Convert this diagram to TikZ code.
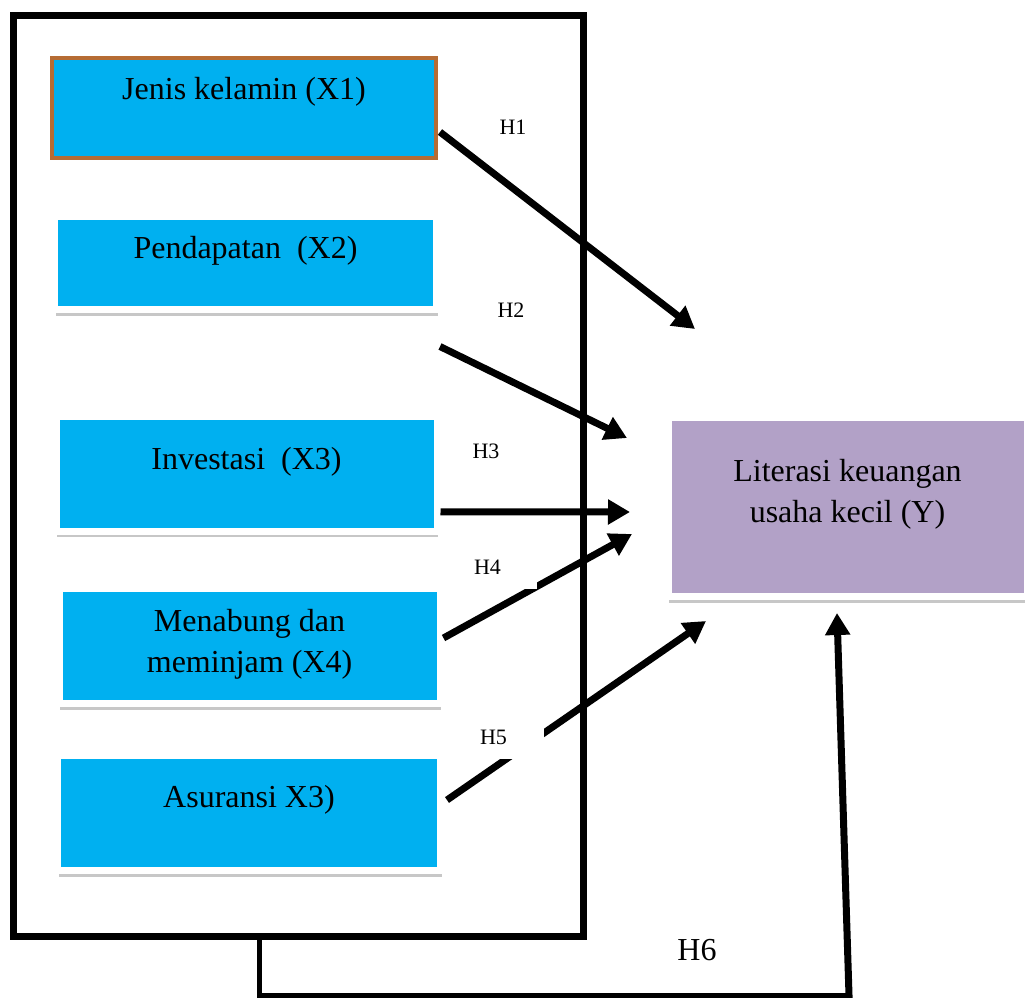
\documentclass[tikz,border=0pt]{standalone}
\usepackage{fontspec}
\setmainfont{Liberation Serif}
\usetikzlibrary{arrows.meta,fit,shadows,calc}
\definecolor{boxcyan}{HTML}{00B0F0}
\definecolor{boxpurple}{HTML}{B2A1C7}
\definecolor{boxbrown}{RGB}{182,108,52}
\begin{document}
\begin{tikzpicture}[x=0.5pt,y=-0.5pt,
  outerbox/.style={draw=black, line width=3.5pt, inner sep=0pt},
  firstbox/.style={fill=boxcyan, draw=boxbrown, line width=2pt, inner sep=0pt},
  framed/.style={fill=boxcyan, draw=white, line width=3.5pt, inner sep=0pt,
    drop shadow={shadow xshift=0.5pt, shadow yshift=-3pt, opacity=0.22, fill=black}},
  ybox/.style={framed, fill=boxpurple},
  txt/.style={font=\fontsize{16pt}{20.5pt}\selectfont, align=center},
  hlbl/.style={font=\fontsize{11pt}{13pt}\selectfont, inner sep=0pt},
  patch/.style={fill=white, inner xsep=7pt, inner ysep=0pt, align=left, minimum height=21.5pt},
  arr/.style={line width=3.5pt, -{Triangle[length=11pt,width=12pt]}},
  fbline/.style={line width=2.5pt, line cap=rect}
]
\useasboundingbox (0,0) rectangle (1025,998);

% outer frame
\node[outerbox, fit={(13,15) (583,936)}] (outer) {};

% boxes
\node[firstbox, fit={(52,58) (436,158)},
  label={[txt, yshift=8.25pt]center:Jenis kelamin (X1)}] (b1) {};
\node[framed, fit={(54.5,216.5) (436.5,309.5)},
  label={[txt, yshift=6pt]center:Pendapatan\ \ (X2)}] (b2) {};
\node[framed, fit={(56,416.5) (437,531)},
  label={[txt, yshift=6pt]center:Investasi\ \ (X3)}] (b3) {};
\node[framed, fit={(59,588.5) (440,703.5)},
  label={[txt, yshift=1pt]center:Menabung dan\\meminjam (X4)}] (b4) {};
\node[framed, fit={(57.5,755.5) (440.5,870.5)},
  label={[txt, yshift=6.5pt]center:Asuransi X3)}] (b5) {};
\node[ybox, fit={(668,417) (1027,596.5)},
  label={[txt, yshift=6pt]center:Literasi keuangan\\usaha kecil (Y)}] (y) {};

% arrow tips and feedback corners
\coordinate (t1) at (695,329);
\coordinate (t2) at (627,438);
\coordinate (t3) at (630,512);
\coordinate (t4) at (632,534);
\coordinate (t5) at (706,621);
\coordinate (t6) at (837,613);
\coordinate (fbA) at (259,995);
\coordinate (fbB) at (849,995);

% arrows
\draw[arr] ([xshift=1pt,yshift=-12pt]b1.east) -- (t1);
\draw[arr] ([yshift=-16.75pt]b2.south east) -- (t2);
\draw[arr] ([yshift=-19pt]b3.east) -- (t3);
\draw[arr] ([yshift=4pt]b4.east) -- (t4);
\draw[arr] ([xshift=1.5pt,yshift=6.5pt]b5.east) -- (t5);
\draw[fbline] (outer.south -| fbA) -- (fbA) -- (fbB);
\draw[arr, line cap=rect] (fbB) -- (t6);

% hypothesis labels
\node[hlbl] (h1) at (513,127) {H1};
\node[hlbl] (h2) at (511,310) {H2};
\node[hlbl] (h3) at (486,451) {H3};
\node[hlbl, patch, text width=24.5pt] (h4) at (498.5,567) {H4};
\node[hlbl, patch, text width=25pt] (h5) at (505,737) {H5};
\node[font=\fontsize{16pt}{19pt}\selectfont, inner sep=0pt] (h6) at (697,950) {H6};
\end{tikzpicture}
\end{document}
